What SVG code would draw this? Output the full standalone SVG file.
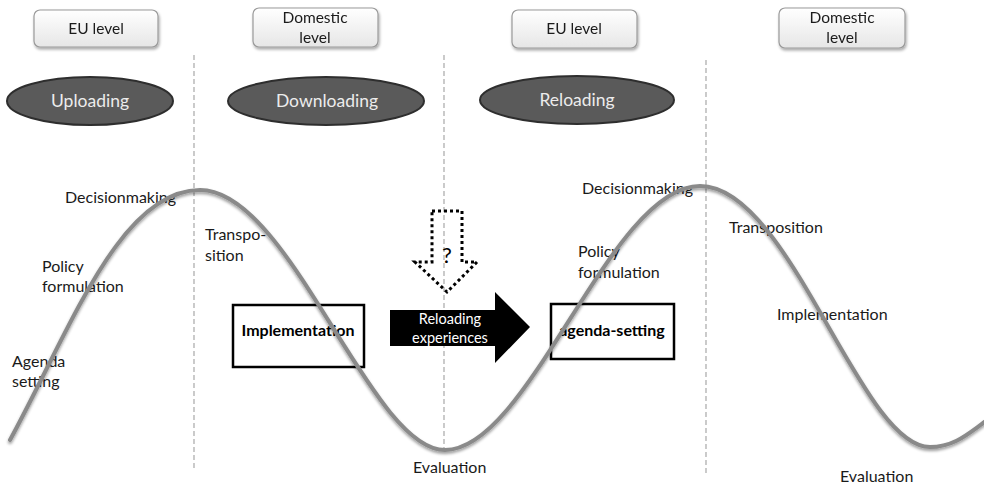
<svg xmlns="http://www.w3.org/2000/svg" width="984" height="487" viewBox="0 0 984 487">
<defs>
<linearGradient id="boxg" x1="0" y1="0" x2="0" y2="1">
<stop offset="0" stop-color="#ffffff"/>
<stop offset="1" stop-color="#e6e6e6"/>
</linearGradient>
<filter id="sh" x="-10%" y="-10%" width="130%" height="140%">
<feGaussianBlur in="SourceAlpha" stdDeviation="1.5"/>
<feOffset dx="1" dy="2" result="b"/>
<feComponentTransfer><feFuncA type="linear" slope="0.35"/></feComponentTransfer>
<feMerge><feMergeNode/><feMergeNode in="SourceGraphic"/></feMerge>
</filter>
<filter id="csh" x="-5%" y="-5%" width="110%" height="115%">
<feGaussianBlur in="SourceAlpha" stdDeviation="1.8"/>
<feOffset dx="0" dy="2"/>
<feComponentTransfer><feFuncA type="linear" slope="0.4"/></feComponentTransfer>
<feMerge><feMergeNode/><feMergeNode in="SourceGraphic"/></feMerge>
</filter>
</defs>
<style>
text{font-family:Lato,"Liberation Sans",sans-serif;fill:#1a1a1a}
.lvl rect{fill:url(#boxg);stroke:#9a9a9a;stroke-width:1.2}
.lvl text{font-size:15.5px;text-anchor:middle}
.ph ellipse{fill:#5a5a5a;stroke:#2e2e2e;stroke-width:2}
.ph text{font-size:17.5px;fill:#ececec;text-anchor:middle}
.lbl{font-size:16px}
.bx rect{fill:none;stroke:#000;stroke-width:2.5}
.bx text{font-size:16px;font-weight:bold;text-anchor:middle;fill:#000}
.wt{font-size:14.5px;text-anchor:middle;fill:#fff}
.q{font-size:22px;text-anchor:middle;fill:#000}
.dash{stroke:#a8a8a8;stroke-width:1.2;stroke-dasharray:5 3;fill:none}
.curve{fill:none;stroke:#8a8a8a;stroke-width:4;stroke-linecap:round}
</style>
<rect width="984" height="487" fill="#fff"/>

<g id="dividers">
<line class="dash" x1="194" y1="55" x2="194" y2="470"/>
<line class="dash" x1="444" y1="55" x2="444" y2="450"/>
<line class="dash" x1="706" y1="60" x2="706" y2="475"/>
</g>

<g id="levels">
<g id="eu1" class="lvl" filter="url(#sh)"><rect x="34" y="10" width="124" height="37" rx="6"/><text x="96" y="34">EU level</text></g>
<g id="dom1" class="lvl" filter="url(#sh)"><rect x="253" y="8" width="125" height="39" rx="6"/><text x="315" y="23">Domestic</text><text x="315" y="43">level</text></g>
<g id="eu2" class="lvl" filter="url(#sh)"><rect x="512" y="10" width="125" height="38" rx="6"/><text x="574" y="34">EU level</text></g>
<g id="dom2" class="lvl" filter="url(#sh)"><rect x="779" y="8" width="126" height="40" rx="6"/><text x="842" y="23">Domestic</text><text x="842" y="43">level</text></g>
</g>

<g id="phases">
<g id="uploading" class="ph"><ellipse cx="90" cy="101" rx="83" ry="24"/><text x="90" y="107">Uploading</text></g>
<g id="downloading" class="ph"><ellipse cx="326" cy="101" rx="98" ry="24"/><text x="327" y="107">Downloading</text></g>
<g id="reloading" class="ph"><ellipse cx="577" cy="100" rx="97" ry="24"/><text x="577" y="106">Reloading</text></g>
</g>

<g id="labels">
<text class="lbl" x="65" y="203">Decisionmaking</text>
<text class="lbl" x="42" y="272">Policy</text>
<text class="lbl" x="42" y="292">formulation</text>
<text class="lbl" x="12" y="367">Agenda</text>
<text class="lbl" x="12" y="387">setting</text>
<text class="lbl" x="205" y="240">Transpo-</text>
<text class="lbl" x="205" y="261">sition</text>
<text class="lbl" x="413" y="473">Evaluation</text>
<text class="lbl" x="582" y="194">Decisionmaking</text>
<text class="lbl" x="578" y="257">Policy</text>
<text class="lbl" x="578" y="278">formulation</text>
<text class="lbl" x="729" y="233">Transposition</text>
<text class="lbl" x="777" y="320">Implementation</text>
<text class="lbl" x="840" y="482">Evaluation</text>
</g>

<g id="implementation" class="bx"><rect x="233" y="305" width="131" height="62"/><text x="298" y="336">Implementation</text></g>
<g id="agenda-setting" class="bx"><rect x="551" y="304" width="123" height="55"/><text x="612" y="336">agenda-setting</text></g>

<g id="connectors">
<path class="curve" filter="url(#csh)" d="M10,440 C70,330 120,190 200,190 C290,190 370,450 445,450 C530,450 610,186 700,186 C790,186 860,447 930,447 C955,447 970,432 986,421"/>
<g id="question-arrow">
<path d="M432,211 L462,211 L462,262 L477,262 L447,292 L415,262 L432,262 Z" fill="none" stroke="#000" stroke-width="3" stroke-dasharray="3 3"/>
<text class="q" x="447" y="263">?</text>
</g>
<g id="reload-arrow">
<path d="M390,310 L495,310 L495,292 L530,327 L495,363 L495,346 L390,346 Z" fill="#000"/>
<text class="wt" x="450" y="324">Reloading</text>
<text class="wt" x="450" y="343">experiences</text>
</g>
</g>
</svg>
